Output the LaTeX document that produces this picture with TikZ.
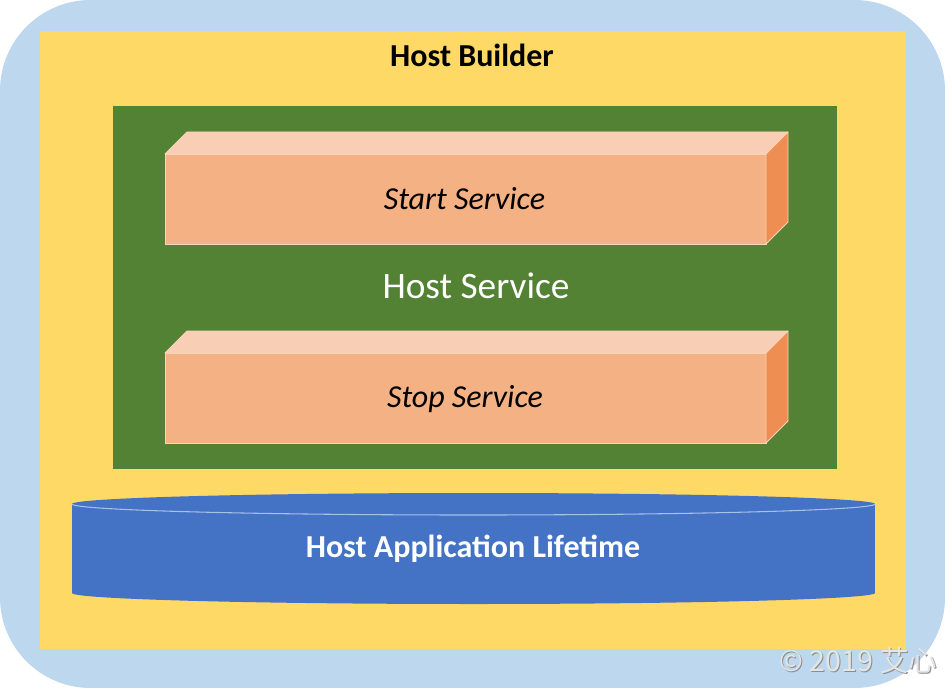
\documentclass[tikz,border=0pt]{standalone}
\usepackage{fontspec}
\setmainfont{Carlito}
\newfontfamily\cjkfont{Noto Sans CJK SC}
\definecolor{outerblue}{HTML}{BDD7EE}
\definecolor{hbyellow}{HTML}{FFD966}
\definecolor{hsgreen}{HTML}{548235}
\definecolor{boxfront}{HTML}{F4B183}
\definecolor{boxtop}{HTML}{F8CFB4}
\definecolor{boxside}{HTML}{EF8E52}
\definecolor{boxedge}{HTML}{F9D3BA}
\definecolor{cylblue}{HTML}{4472C4}
\definecolor{cyledge}{HTML}{A9C0EA}
\tikzset{
  panel/.style={anchor=north west, inner sep=0pt, outer sep=0pt},
  frontface/.style={panel, fill=boxfront, draw=boxedge, line width=0.6pt,
    minimum width=450.75pt, minimum height=67.5pt},
  topface/.style={fill=boxtop, draw=boxedge, line width=0.6pt, line join=round},
  sideface/.style={fill=boxside, draw=boxedge, line width=0.6pt, line join=round},
  svclabel/.style={font=\fontsize{24}{28}\selectfont\itshape, text=black},
}
\begin{document}
\begin{tikzpicture}[x=0.75pt,y=-0.75pt]
\useasboundingbox (0,0) rectangle (945,688);
% outer frame
\node[panel, fill=outerblue, rounded corners=68pt,
  minimum width=708.75pt, minimum height=516pt] (outer) at (0,0) {};
% host builder
\node[panel, fill=hbyellow, minimum width=649.5pt, minimum height=463.5pt]
  (builder) at (40,31) {};
\node[font=\fontsize{24}{28}\selectfont\bfseries] (buildertext) at (472,55) {Host Builder};
% host service
\node[panel, fill=hsgreen, minimum width=543pt, minimum height=272.25pt]
  (hostsvc) at (113,106) {};
\node[font=\fontsize{28}{32}\selectfont, text=white] (hostsvctext) at (476,286) {Host Service};
% start service box
\node[frontface] (start) at (165,154) {};
\draw[topface] (start.north west) -- ++(22,-22) -- ([shift={(22,-22)}]start.north east)
  -- (start.north east) -- cycle;
\draw[sideface] (start.north east) -- ++(22,-22) -- ([shift={(22,-22)}]start.south east)
  -- (start.south east) -- cycle;
\node[svclabel] (starttext) at (464.5,199) {Start Service};
% stop service box
\node[frontface] (stop) at (165,353) {};
\draw[topface] (stop.north west) -- ++(22,-22) -- ([shift={(22,-22)}]stop.north east)
  -- (stop.north east) -- cycle;
\draw[sideface] (stop.north east) -- ++(22,-22) -- ([shift={(22,-22)}]stop.south east)
  -- (stop.south east) -- cycle;
\node[svclabel] (stoptext) at (465,399) {Stop Service};
% lifetime cylinder
\coordinate (cyltop) at (473.5,504);
\coordinate (cylbot) at (473.5,593);
\fill[cylblue] (72,504) rectangle (875,593);
\fill[cylblue] (cylbot) ellipse [x radius=401.5, y radius=11];
\fill[cylblue] (cyltop) ellipse [x radius=401.5, y radius=11];
\begin{scope}
  \clip (60,504) rectangle (890,520);
  \draw[cyledge, line width=0.8pt] (cyltop) ellipse [x radius=401.5, y radius=11];
\end{scope}
\node[font=\fontsize{24}{28}\selectfont\bfseries, text=white] (lifetime) at (473,549)
  {Host Application Lifetime};
% watermark
\node[font=\cjkfont\fontsize{21.5}{24}\selectfont, text=gray!90] (wmshadow) at (859.5,661.5)
  {© 2019 艾心};
\node[font=\cjkfont\fontsize{21.5}{24}\selectfont, text=white!80!gray] (wm) at (858.5,660.5)
  {© 2019 艾心};
\end{tikzpicture}
\end{document}
